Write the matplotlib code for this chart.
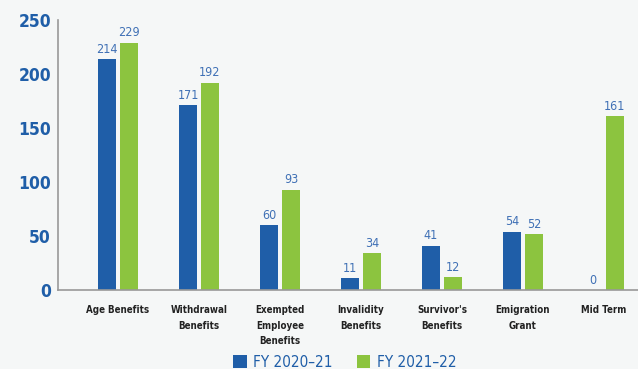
import numpy as np
import matplotlib
matplotlib.use("Agg")
import matplotlib.pyplot as plt

categories = ["Age Benefits", "Withdrawal\nBenefits", "Exempted\nEmployee\nBenefits",
              "Invalidity\nBenefits", "Survivor's\nBenefits", "Emigration\nGrant", "Mid Term"]
fy2021 = [214, 171, 60, 11, 41, 54, 0]
fy2122 = [229, 192, 93, 34, 12, 52, 161]
yticks = [0, 50, 100, 150, 200, 250]

blue = "#1f5ea8"
green = "#8cc43f"
label_blue = "#3f70b5"
bg = "#f5f7f7"
fam = "DejaVu Sans"
cond = "condensed"

fig = plt.figure(figsize=(6.38, 3.69), dpi=100)
fig.patch.set_facecolor(bg)
ax = fig.add_axes([58/638, 1-290/369, 1-58/638, 270/369])
ax.set_facecolor(bg)

x = np.arange(len(categories))
w = 0.23
off = 0.135
b1 = ax.bar(x - off, fy2021, w, color=blue)
b2 = ax.bar(x + off, fy2122, w, color=green)

#value labels above bars
for bars, vals in [(b1, fy2021), (b2, fy2122)]:
	for rect, v in zip(bars, vals):
		ax.text(rect.get_x() + rect.get_width()/2, v + 3, str(v), ha="center", va="bottom",
		        fontsize=9, color=label_blue, family=fam, stretch=cond)

ax.set_ylim(0, 250)
ax.set_xlim(-0.74, 6.42)
ax.set_yticks(yticks)
ax.set_yticklabels([str(t) for t in yticks], fontsize=12.5, fontweight="bold", color=blue,
                   family=fam, stretch=cond)
ax.set_xticks(x)
ax.set_xticklabels(categories, fontsize=7, fontweight="bold", color="#222222", family=fam,
                   stretch=cond, linespacing=1.7, va="top")
ax.tick_params(axis="both", length=0)
ax.tick_params(axis="y", pad=5)
ax.tick_params(axis="x", pad=11)

for s in ["top", "right"]:
	ax.spines[s].set_visible(False)
for s in ["left", "bottom"]:
	ax.spines[s].set_color("#999999")
	ax.spines[s].set_linewidth(1.2)

#legend at the very bottom
leg = fig.legend([b1, b2], ["FY 2020\u201321", "FY 2021\u201322"], loc="lower center",
                 bbox_to_anchor=(0.54, -0.04), ncol=2, frameon=False, handlelength=0.9,
                 handleheight=0.9, columnspacing=1.6, handletextpad=0.4,
                 prop={"family": fam, "stretch": cond, "size": 11})
for t in leg.get_texts():
	t.set_color(blue)

fig.savefig("out.png", dpi=100, facecolor=bg)
